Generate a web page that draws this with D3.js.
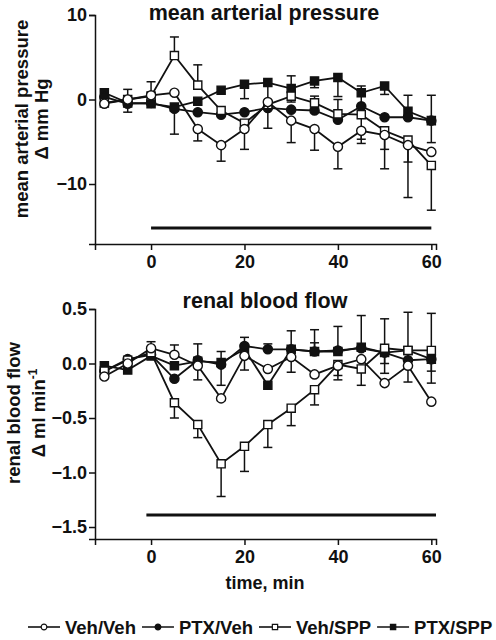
<!DOCTYPE html>
<html>
<head>
<meta charset="utf-8">
<script src="https://cdn.jsdelivr.net/npm/d3@7"></script>
<style>
  html, body { margin: 0; padding: 0; background: #fff; }
  svg { display: block; }
  text { font-family: "Liberation Sans", Arial, Helvetica, sans-serif; font-weight: bold; fill: #111; }
</style>
</head>
<body>
<svg id="chart" width="496" height="640"></svg>
<script>
// ---------- data ----------
const times = [-10, -5, 0, 5, 10, 15, 20, 25, 30, 35, 40, 45, 50, 55, 60];
const seriesNames = ["Veh/Veh", "PTX/Veh", "Veh/SPP", "PTX/SPP"];
const xTickValues = [0, 20, 40, 60];

// Mean arterial pressure, delta mm Hg
const mapVehVeh = [-0.5, 0.0, 0.5, 0.8, -3.5, -5.4, -3.5, -0.3, -2.5, -3.5, -5.6, -3.7, -4.2, -5.4, -6.2];
const mapPtxVeh = [0.3, -0.5, -0.4, -1.1, -1.5, -1.8, -1.5, -1.0, -1.2, -1.3, -2.4, -0.8, -2.1, -2.1, -2.5];
const mapVehSpp = [-0.4, 0.0, 0.4, 5.2, 1.7, -1.3, -2.8, -0.6, 0.4, -0.4, -1.7, -1.8, -3.7, -4.8, -7.8];
const mapPtxSpp = [0.8, -0.4, -0.5, -0.9, -0.2, 1.1, 1.8, 2.0, 1.3, 2.2, 2.6, 0.8, 1.6, -1.4, -2.5];
// one-sided SEM bars: positive = drawn upward, negative = drawn downward
const mapVehVehErr = [0, 0, 1.6, 0, -1.4, -1.9, -2.4, -3.1, -2.6, -2.5, -2.6, -1.5, -1.7, -6.2, 0];
const mapPtxVehErr = [0, -1.0, 0, -3.0, 0, 0, 0, 0, 0, 1.7, 2.4, 2.4, 0, 0, -2.6];
const mapVehSppErr = [0, 1.2, 0, 2.2, 2.4, 0, 0, 0, 2.4, 0, 0, -2.9, -4.5, -2.6, -5.3];
const mapPtxSppErr = [0, 0, 0, 0, 0, 0, -1.7, -2.8, -1.6, -0.8, -2.25, 0, -1.0, 1.9, 3.0];
const mapTicks = [10, 0, -10];
const mapTreatment = [0, 60];
const mapTreatmentLevel = -15.2;

// Renal blood flow, delta ml/min
const rbfVehVeh = [-0.12, 0.0, 0.14, 0.08, -0.02, -0.32, 0.07, -0.05, 0.06, -0.10, -0.02, 0.04, -0.18, -0.02, -0.35];
const rbfPtxVeh = [-0.07, 0.04, 0.08, -0.14, 0.03, -0.01, 0.16, 0.13, 0.13, 0.11, 0.12, 0.14, 0.10, 0.03, 0.04];
const rbfVehSpp = [-0.07, 0.03, 0.10, -0.36, -0.56, -0.92, -0.76, -0.56, -0.41, -0.24, -0.01, -0.05, 0.14, 0.12, 0.12];
const rbfPtxSpp = [-0.02, -0.06, 0.07, -0.02, 0.02, 0.01, 0.13, -0.20, 0.13, 0.11, 0.11, 0.15, 0.10, 0.12, 0.04];
const rbfVehVehErr = [0, 0, 0.06, 0.09, -0.13, 0, -0.13, 0, -0.14, 0, -0.09, 0, 0, 0, 0];
const rbfPtxVehErr = [0, 0, 0, 0, 0.15, -0.19, 0.08, 0.05, 0.17, 0.2, 0.22, 0.3, -0.19, -0.2, -0.22];
const rbfVehSppErr = [0, 0, 0, -0.14, -0.12, -0.3, -0.23, -0.21, -0.16, -0.14, -0.14, -0.15, 0.27, 0.35, 0.34];
const rbfPtxSppErr = [0, 0, 0, 0, 0, 0.1, 0, 0, 0, 0.08, 0, 0, -0.1, -0.1, -0.11];
const rbfTicks = [0.5, 0.0, -0.5, -1.0, -1.5];
const rbfTreatment = [-1, 61];
const rbfTreatmentLevel = -1.39;

// ---------- drawing ----------
const svg = d3.select("#chart");
const markerStyle = {
  "Veh/Veh": { shape: d3.symbolCircle, fill: "#fff" },
  "PTX/Veh": { shape: d3.symbolCircle, fill: "#111" },
  "Veh/SPP": { shape: d3.symbolSquare, fill: "#fff" },
  "PTX/SPP": { shape: d3.symbolSquare, fill: "#111" }
};
const drawOrder = ["PTX/SPP", "PTX/Veh", "Veh/SPP", "Veh/Veh"];

function panel(cfg) {
  const x = d3.scaleLinear().domain([-12, 61]).range([95, 436]);
  const y = d3.scaleLinear().domain(cfg.yDomain).range(cfg.yRange);
  const g = svg.append("g");

  const yAxis = d3.axisLeft(y).tickValues(cfg.ticks).tickSizeOuter(0).tickSize(6).tickPadding(2)
    .tickFormat(cfg.fmt);
  const ya = g.append("g").attr("transform", `translate(${x.range()[0]},0)`).call(yAxis);
  ya.selectAll("text").style("font-size", "18px");
  ya.selectAll("path,line").attr("stroke", "#111").attr("stroke-width", 1.5);

  const xAxis = d3.axisBottom(x).tickValues(xTickValues).tickSizeOuter(0).tickSize(6).tickPadding(5);
  const xa = g.append("g").attr("transform", `translate(0,${y.range()[0]})`).call(xAxis);
  xa.selectAll("text").style("font-size", "18px");
  xa.selectAll("path,line").attr("stroke", "#111").attr("stroke-width", 1.5);

  g.append("line")
    .attr("x1", x(cfg.treatment[0])).attr("x2", x(cfg.treatment[1]))
    .attr("y1", y(cfg.treatmentLevel)).attr("y2", y(cfg.treatmentLevel))
    .attr("stroke", "#111").attr("stroke-width", 3);

  const line = d3.line().x((d) => x(d.t)).y((d) => y(d.v));

  drawOrder.forEach((name) => {
    const vals = cfg.values[name], errs = cfg.errors[name];
    const pts = times.map((t, i) => ({ t, v: vals[i], e: errs[i] }));
    const sg = g.append("g");
    pts.filter((d) => d.e !== 0).forEach((d) => {
      const yEnd = y(d.v + d.e);
      sg.append("line").attr("x1", x(d.t)).attr("x2", x(d.t))
        .attr("y1", y(d.v)).attr("y2", yEnd).attr("stroke", "#111").attr("stroke-width", 1.5);
      sg.append("line").attr("x1", x(d.t) - 4.5).attr("x2", x(d.t) + 4.5)
        .attr("y1", yEnd).attr("y2", yEnd).attr("stroke", "#111").attr("stroke-width", 1.5);
    });
    sg.append("path").datum(pts).attr("d", line)
      .attr("fill", "none").attr("stroke", "#111").attr("stroke-width", 1.8);
    const st = markerStyle[name];
    sg.selectAll("path.m").data(pts).enter().append("path").attr("class", "m")
      .attr("d", d3.symbol().type(st.shape).size(st.shape === d3.symbolCircle ? 66 : 66))
      .attr("transform", (d) => `translate(${x(d.t)},${y(d.v)})`)
      .attr("fill", st.fill).attr("stroke", "#111").attr("stroke-width", 1.4);
  });

  g.append("text").attr("x", cfg.titleX).attr("y", cfg.titleY).attr("text-anchor", "middle")
    .style("font-size", "21.5px").text(cfg.title);

  const yl = g.append("text").attr("transform", `translate(${cfg.ylabX},${cfg.ylabY}) rotate(-90)`)
    .attr("text-anchor", "middle").style("font-size", "18.5px");
  yl.append("tspan").attr("x", 0).attr("y", 0).text(cfg.ylab1);
  const l2 = yl.append("tspan").attr("x", 0).attr("y", cfg.ylabGap);
  l2.text(cfg.ylab2);
  if (cfg.ylabSup) {
    l2.append("tspan").attr("dy", -8).style("font-size", "12px").text(cfg.ylabSup);
  }
  return { x, y };
}

panel({
  yDomain: [-17.1, 10], yRange: [244, 15], ticks: mapTicks, fmt: d3.format("d"),
  values: { "Veh/Veh": mapVehVeh, "PTX/Veh": mapPtxVeh, "Veh/SPP": mapVehSpp, "PTX/SPP": mapPtxSpp },
  errors: { "Veh/Veh": mapVehVehErr, "PTX/Veh": mapPtxVehErr, "Veh/SPP": mapVehSppErr, "PTX/SPP": mapPtxSppErr },
  treatment: mapTreatment, treatmentLevel: mapTreatmentLevel,
  title: "mean arterial pressure", titleX: 264, titleY: 20,
  ylab1: "mean arterial pressure", ylab2: "\u0394 mm Hg", ylabX: 28, ylabY: 119, ylabGap: 20
});

panel({
  yDomain: [-1.61, 0.5], yRange: [539, 309], ticks: rbfTicks, fmt: d3.format(".1f"),
  values: { "Veh/Veh": rbfVehVeh, "PTX/Veh": rbfPtxVeh, "Veh/SPP": rbfVehSpp, "PTX/SPP": rbfPtxSpp },
  errors: { "Veh/Veh": rbfVehVehErr, "PTX/Veh": rbfPtxVehErr, "Veh/SPP": rbfVehSppErr, "PTX/SPP": rbfPtxSppErr },
  treatment: rbfTreatment, treatmentLevel: rbfTreatmentLevel,
  title: "renal blood flow", titleX: 265, titleY: 308,
  ylab1: "renal blood flow", ylab2: "\u0394 ml min", ylabSup: "-1", ylabX: 20, ylabY: 413, ylabGap: 25
});

svg.append("text").attr("x", 265).attr("y", 589).attr("text-anchor", "middle")
  .style("font-size", "18px").text("time, min");

const legend = svg.append("g");
let lx = 28;
seriesNames.forEach((name) => {
  const st = markerStyle[name];
  const ly = 627;
  legend.append("line").attr("x1", lx).attr("x2", lx + 32).attr("y1", ly).attr("y2", ly)
    .attr("stroke", "#111").attr("stroke-width", 1.6);
  legend.append("path").attr("d", d3.symbol().type(st.shape).size(st.shape === d3.symbolCircle ? 26 : 28))
    .attr("transform", `translate(${lx + 16},${ly})`)
    .attr("fill", st.fill).attr("stroke", "#111").attr("stroke-width", 1.2);
  const t = legend.append("text").attr("x", lx + 37).attr("y", ly + 6.5)
    .style("font-size", "18.5px").text(name);
  lx += 37 + t.node().getComputedTextLength() + 6;
});
</script>
</body>
</html>
